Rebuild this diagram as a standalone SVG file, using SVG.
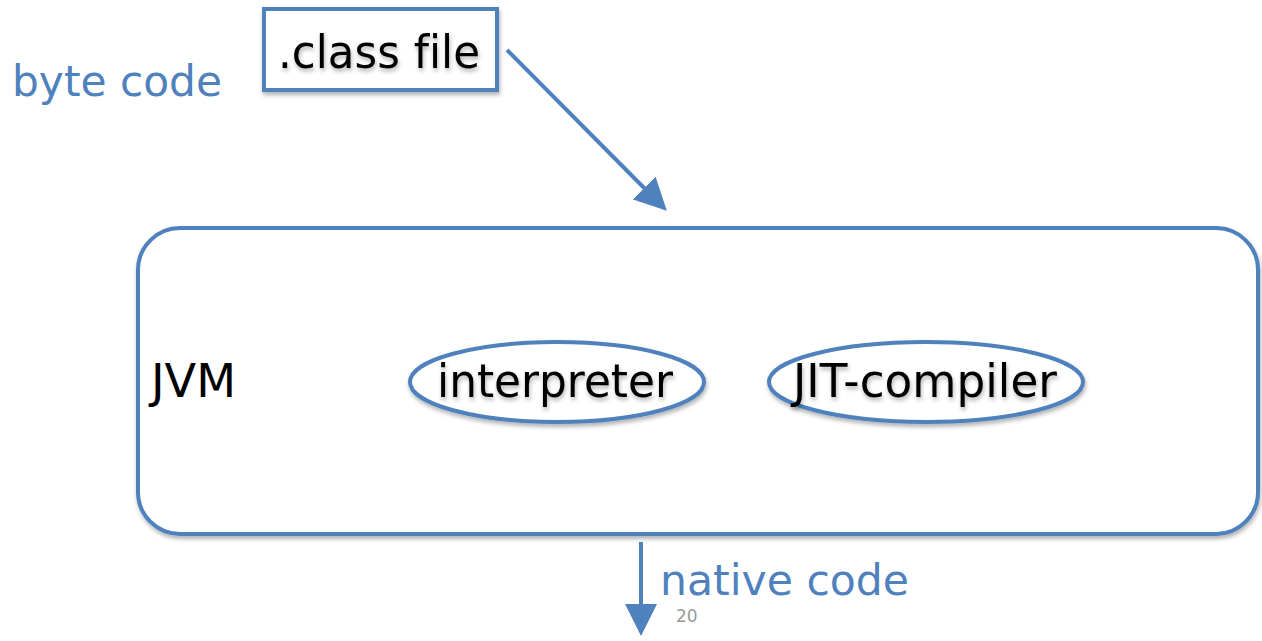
<svg xmlns="http://www.w3.org/2000/svg" width="1262" height="641" viewBox="0 0 1262 641">
  <style>
    .shape { fill: #ffffff; stroke: #4f81bd; stroke-width: 4; }
    text { font-variant-ligatures: none; }
    .label { font-family: "DejaVu Sans", "Open Sans", sans-serif; font-size: 46px; fill: #000000; }
    .blue { font-family: "DejaVu Sans", "Open Sans", sans-serif; font-size: 42px; fill: #4f81bd; }
    .page { font-family: "DejaVu Sans", "Open Sans", sans-serif; font-size: 17px; fill: #9a9a9a; }
    .edge { stroke: #4f81bd; stroke-width: 4; fill: none; }
  </style>
  <defs>
    <filter id="shadow" x="-10%" y="-10%" width="120%" height="130%">
      <feDropShadow dx="1" dy="3" stdDeviation="2" flood-color="#000000" flood-opacity="0.3"/>
    </filter>
    <marker id="arrow" markerWidth="8" markerHeight="8" refX="7" refY="4" orient="auto" markerUnits="strokeWidth">
      <path d="M0,0 L8,4 L0,8 Z" fill="#4f81bd"/>
    </marker>
  </defs>
  <rect width="1262" height="641" fill="#ffffff"/>

  <text class="blue" x="12" y="96" textLength="210" lengthAdjust="spacingAndGlyphs">byte code</text>

  <g id="classfile">
    <rect class="shape" x="264" y="9" width="233" height="81" filter="url(#shadow)"/>
    <text class="label" x="278" y="68" textLength="202" lengthAdjust="spacingAndGlyphs" filter="url(#shadow)">.class file</text>
  </g>

  <g id="jvm">
    <rect class="shape" x="138" y="228" width="1120" height="306" rx="42" ry="42" filter="url(#shadow)"/>
    <text class="label" x="151" y="397" textLength="85" lengthAdjust="spacingAndGlyphs">JVM</text>
  </g>

  <g id="interpreter">
    <ellipse class="shape" cx="557" cy="382" rx="147" ry="40" filter="url(#shadow)"/>
    <text class="label" x="437" y="397" textLength="236" lengthAdjust="spacingAndGlyphs" filter="url(#shadow)">interpreter</text>
  </g>

  <g id="jit">
    <ellipse class="shape" cx="926" cy="382" rx="157" ry="40" filter="url(#shadow)"/>
    <text class="label" x="793" y="397" textLength="264" lengthAdjust="spacingAndGlyphs" filter="url(#shadow)">JIT-compiler</text>
  </g>

  <g id="connectors">
    <line class="edge" x1="507" y1="50" x2="664" y2="208" marker-end="url(#arrow)"/>
    <line class="edge" x1="641" y1="542" x2="641" y2="632" marker-end="url(#arrow)"/>
  </g>

  <text class="blue" x="660" y="595" textLength="249" lengthAdjust="spacingAndGlyphs">native code</text>
  <text class="page" x="676" y="622">20</text>
</svg>
